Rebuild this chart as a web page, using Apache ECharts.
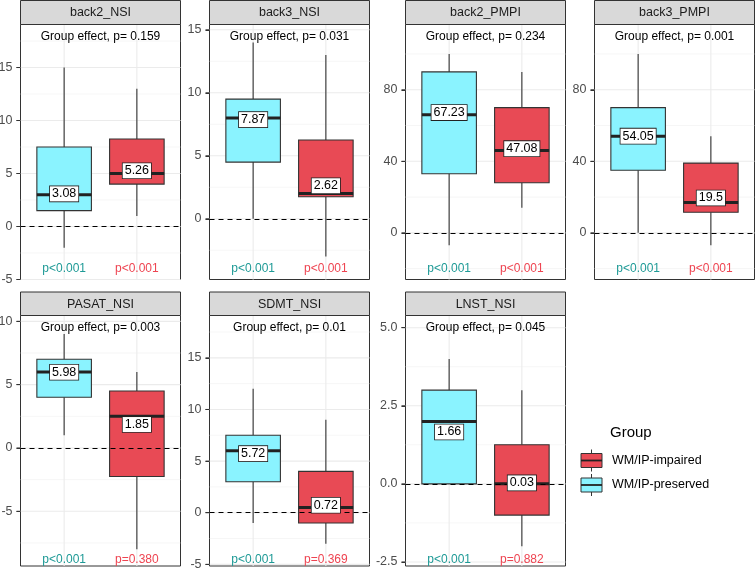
<!DOCTYPE html>
<html><head><meta charset="utf-8">
<script src="https://cdn.jsdelivr.net/npm/echarts@6/dist/echarts.min.js"></script>
<style>html,body{margin:0;padding:0;background:#fff}#c{width:755px;height:571px}</style>
</head><body><div id="c"></div>
<script>
// ---------- data ----------
const panels = ['back2_NSI','back3_NSI','back2_PMPI','back3_PMPI','PASAT_NSI','SDMT_NSI','LNST_NSI'];
const groups = ['WM/IP-preserved','WM/IP-impaired'];
// [lower whisker, Q1, median, Q3, upper whisker]
const preservedBox = [[-2,1.5,3,7.5,15],[0,4.5,8,9.5,14],[-7,33,66,90,100],[0,35,54,70,100],[1,4,6,7,9],[-1,3,6,7.5,12],[0,0,2,3,4]];
const impairedBox  = [[1,4,5,8.25,13],[-3,1.75,2,6.25,13],[14,28,46,70,90],[-7,11.5,17,39,54],[-8,-2.25,2.5,4.5,6],[-3,-1,0.5,4,9],[-2,-1,0,1.25,3]];
const preservedMean = [3.08,7.87,67.23,54.05,5.98,5.72,1.66];
const impairedMean  = [5.26,2.62,47.08,19.5,1.85,0.72,0.03];
const groupEffectP = ['0.159','0.031','0.234','0.001','0.003','0.01','0.045'];
const preservedP = ['p<0.001','p<0.001','p<0.001','p<0.001','p<0.001','p<0.001','p<0.001'];
const impairedP  = ['p<0.001','p<0.001','p<0.001','p<0.001','p=0.380','p=0.369','p=0.882'];
const yMin = [-5,-4.82,-26.1,-26.1,-9.32,-5.16,-2.63];
const yMax = [19.06,15.42,116.5,116.5,10.46,19.1,5.39];
const yTicks = [[-5,0,5,10,15],[0,5,10,15],[0,40,80],[0,40,80],[-5,0,5,10],[-5,0,5,10,15],[-2.5,0,2.5,5]];
const yTickLabels = [['-5','0','5','10','15'],['0','5','10','15'],['0','40','80'],['0','40','80'],['-5','0','5','10'],['-5','0','5','10','15'],['-2.5','0.0','2.5','5.0']];

// ---------- style / layout ----------
const FONT = '"Liberation Sans", Arial, Helvetica, sans-serif';
const fills = ['#8AF3FF', '#E84A55'];
const pColors = ['#1E9A96', '#EE4451'];
const colLeft = [20.5, 209.5, 405.5, 594.5];
const panelW = 160;
const rows = [
  {stripTop: 0.5, top: 24.5, bottom: 279.5, titleOff: 12, pOff: 11},
  {stripTop: 292, top: 315.5, bottom: 566, titleOff: 12.5, pOff: 6.5}
];

const chart = echarts.init(document.getElementById('c'), null, {renderer: 'canvas'});

const grids = [], xAxes = [], yAxes = [], series = [];
panels.forEach((name, i) => {
  const r = rows[Math.floor(i / 4)];
  grids.push({left: colLeft[i % 4], top: r.top, width: panelW, height: r.bottom - r.top,
    show: true, backgroundColor: '#fff', borderColor: '#333', borderWidth: 1,
    containLabel: false, outerBoundsMode: 'none'});
  xAxes.push({type: 'value', gridIndex: i, min: 0.4, max: 2.6, show: false});
  const labels = yTickLabels[i], ticks = yTicks[i];
  yAxes.push({type: 'value', gridIndex: i, min: yMin[i], max: yMax[i],
    axisLine: {show: false}, splitLine: {show: false},
    axisTick: {show: true, customValues: ticks, length: 4, lineStyle: {color: '#333', width: 1}},
    axisLabel: {customValues: ticks, color: '#4d4d4d', fontSize: 12.5, fontFamily: FONT, margin: 8,
      formatter: v => { const k = ticks.findIndex(t => Math.abs(t - v) < 1e-9); return k >= 0 ? labels[k] : ''; }}
  });
  const step = ticks[1] - ticks[0];
  const minors = [];
  [ticks[0] - step].concat(ticks).forEach(t => { const m = t + step / 2; if (m > yMin[i] && m < yMax[i]) minors.push(m); });
  // gridlines + tick marks
  series.push({type: 'custom', xAxisIndex: i, yAxisIndex: i, z: 1, silent: true, clip: false, data: [[1, 0]],
    renderItem: (params, api) => {
      const cs = params.coordSys;
      const ch = [];
      minors.forEach(v => { const y = api.coord([1, v])[1];
        ch.push({type: 'line', shape: {x1: cs.x, y1: y, x2: cs.x + cs.width, y2: y}, style: {stroke: '#f0f0f0', lineWidth: 0.6}}); });
      ticks.forEach(v => { const y = api.coord([1, v])[1];
        ch.push({type: 'line', shape: {x1: cs.x, y1: y, x2: cs.x + cs.width, y2: y}, style: {stroke: '#ebebeb', lineWidth: 1.1}});
        ch.push({type: 'line', shape: {x1: cs.x - 4, y1: y, x2: cs.x, y2: y}, style: {stroke: '#333', lineWidth: 1}}); });
      [1, 2].forEach(c => { const x = api.coord([c, 0])[0];
        ch.push({type: 'line', shape: {x1: x, y1: cs.y, x2: x, y2: cs.y + cs.height}, style: {stroke: '#ebebeb', lineWidth: 1.1}}); });
      return {type: 'group', children: ch};
    }});
  // boxes
  series.push({type: 'custom', xAxisIndex: i, yAxisIndex: i, z: 2, silent: true,
    data: [[1].concat(preservedBox[i]), [2].concat(impairedBox[i])],
    encode: {x: 0, y: [1, 2, 3, 4, 5]},
    renderItem: (params, api) => {
      const x = api.value(0);
      const w = api.size([0.75, 0])[0];
      const pLo = api.coord([x, api.value(1)]), pQ1 = api.coord([x, api.value(2)]),
            pMd = api.coord([x, api.value(3)]), pQ3 = api.coord([x, api.value(4)]), pHi = api.coord([x, api.value(5)]);
      const cx = pMd[0];
      const st = {stroke: '#333', lineWidth: 1.1};
      return {type: 'group', children: [
        {type: 'line', shape: {x1: cx, y1: pQ3[1], x2: cx, y2: pHi[1]}, style: st},
        {type: 'line', shape: {x1: cx, y1: pLo[1], x2: cx, y2: pQ1[1]}, style: st},
        {type: 'rect', shape: {x: cx - w / 2, y: pQ3[1], width: w, height: pQ1[1] - pQ3[1]},
          style: {fill: fills[params.dataIndex], stroke: '#333', lineWidth: 1.1}},
        {type: 'line', shape: {x1: cx - w / 2, y1: pMd[1], x2: cx + w / 2, y2: pMd[1]}, style: {stroke: '#222', lineWidth: 3}}
      ]};
    },
    markLine: {silent: true, symbol: ['none', 'none'], label: {show: false}, z: 5,
      lineStyle: {color: '#000', type: [5, 4], width: 1.2, opacity: 1}, data: [{yAxis: 0}]}
  });
  // mean labels
  series.push({type: 'scatter', xAxisIndex: i, yAxisIndex: i, z: 10, silent: true,
    symbol: 'rect', symbolSize: 2, itemStyle: {color: 'rgba(0,0,0,0)', opacity: 1},
    data: [[1, preservedMean[i]], [2, impairedMean[i]]],
    label: {show: true, position: 'inside', formatter: p => String(p.value[1]), opacity: 1,
      fontSize: 12.5, fontFamily: FONT, color: '#000', backgroundColor: '#fff',
      borderColor: '#222', borderWidth: 0.8, padding: [2, 2, 1, 2], lineHeight: 12}
  });
});

chart.setOption({
  animation: false,
  backgroundColor: '#fff',
  grid: grids, xAxis: xAxes, yAxis: yAxes, series: series
});

// strips, annotations, legend
const g = [];
panels.forEach((name, i) => {
  const r = rows[Math.floor(i / 4)];
  const left = colLeft[i % 4];
  g.push({type: 'rect', shape: {x: left, y: r.stripTop, width: panelW, height: r.top - r.stripTop},
    style: {fill: '#d9d9d9', stroke: '#333', lineWidth: 1}, z: 20});
  g.push({type: 'text', x: left + panelW / 2, y: (r.stripTop + r.top) / 2 + 0.5, z: 21,
    style: {text: name, fill: '#1a1a1a', font: '12.5px ' + FONT, align: 'center', verticalAlign: 'middle'}});
  g.push({type: 'text', x: left + panelW / 2, y: r.top + r.titleOff, z: 21,
    style: {text: 'Group effect, p= ' + groupEffectP[i], fill: '#000', font: '12px ' + FONT, align: 'center', verticalAlign: 'middle'}});
  const x1 = chart.convertToPixel({xAxisIndex: i, yAxisIndex: i}, [1, 0])[0];
  const x2 = chart.convertToPixel({xAxisIndex: i, yAxisIndex: i}, [2, 0])[0];
  g.push({type: 'text', x: x1, y: r.bottom - r.pOff, z: 21,
    style: {text: preservedP[i], fill: pColors[0], font: '12px ' + FONT, align: 'center', verticalAlign: 'middle'}});
  g.push({type: 'text', x: x2, y: r.bottom - r.pOff, z: 21,
    style: {text: impairedP[i], fill: pColors[1], font: '12px ' + FONT, align: 'center', verticalAlign: 'middle'}});
});
// legend
g.push({type: 'text', x: 610, y: 433, z: 21, style: {text: 'Group', fill: '#000', font: '15px ' + FONT, verticalAlign: 'middle'}});
const legendItems = [{label: groups[1], fill: fills[1], cy: 460.5}, {label: groups[0], fill: fills[0], cy: 485}];
legendItems.forEach(it => {
  g.push({type: 'line', z: 21, shape: {x1: 591.5, y1: it.cy - 11, x2: 591.5, y2: it.cy + 11}, style: {stroke: '#333', lineWidth: 1}});
  g.push({type: 'rect', z: 22, shape: {x: 581, y: it.cy - 7, width: 21, height: 14}, style: {fill: it.fill, stroke: '#333', lineWidth: 1}});
  g.push({type: 'line', z: 23, shape: {x1: 581, y1: it.cy, x2: 602, y2: it.cy}, style: {stroke: '#222', lineWidth: 1.8}});
  g.push({type: 'text', x: 612, y: it.cy, z: 21, style: {text: it.label, fill: '#000', font: '12.5px ' + FONT, verticalAlign: 'middle'}});
});
chart.setOption({graphic: g});
</script>
</body></html>
